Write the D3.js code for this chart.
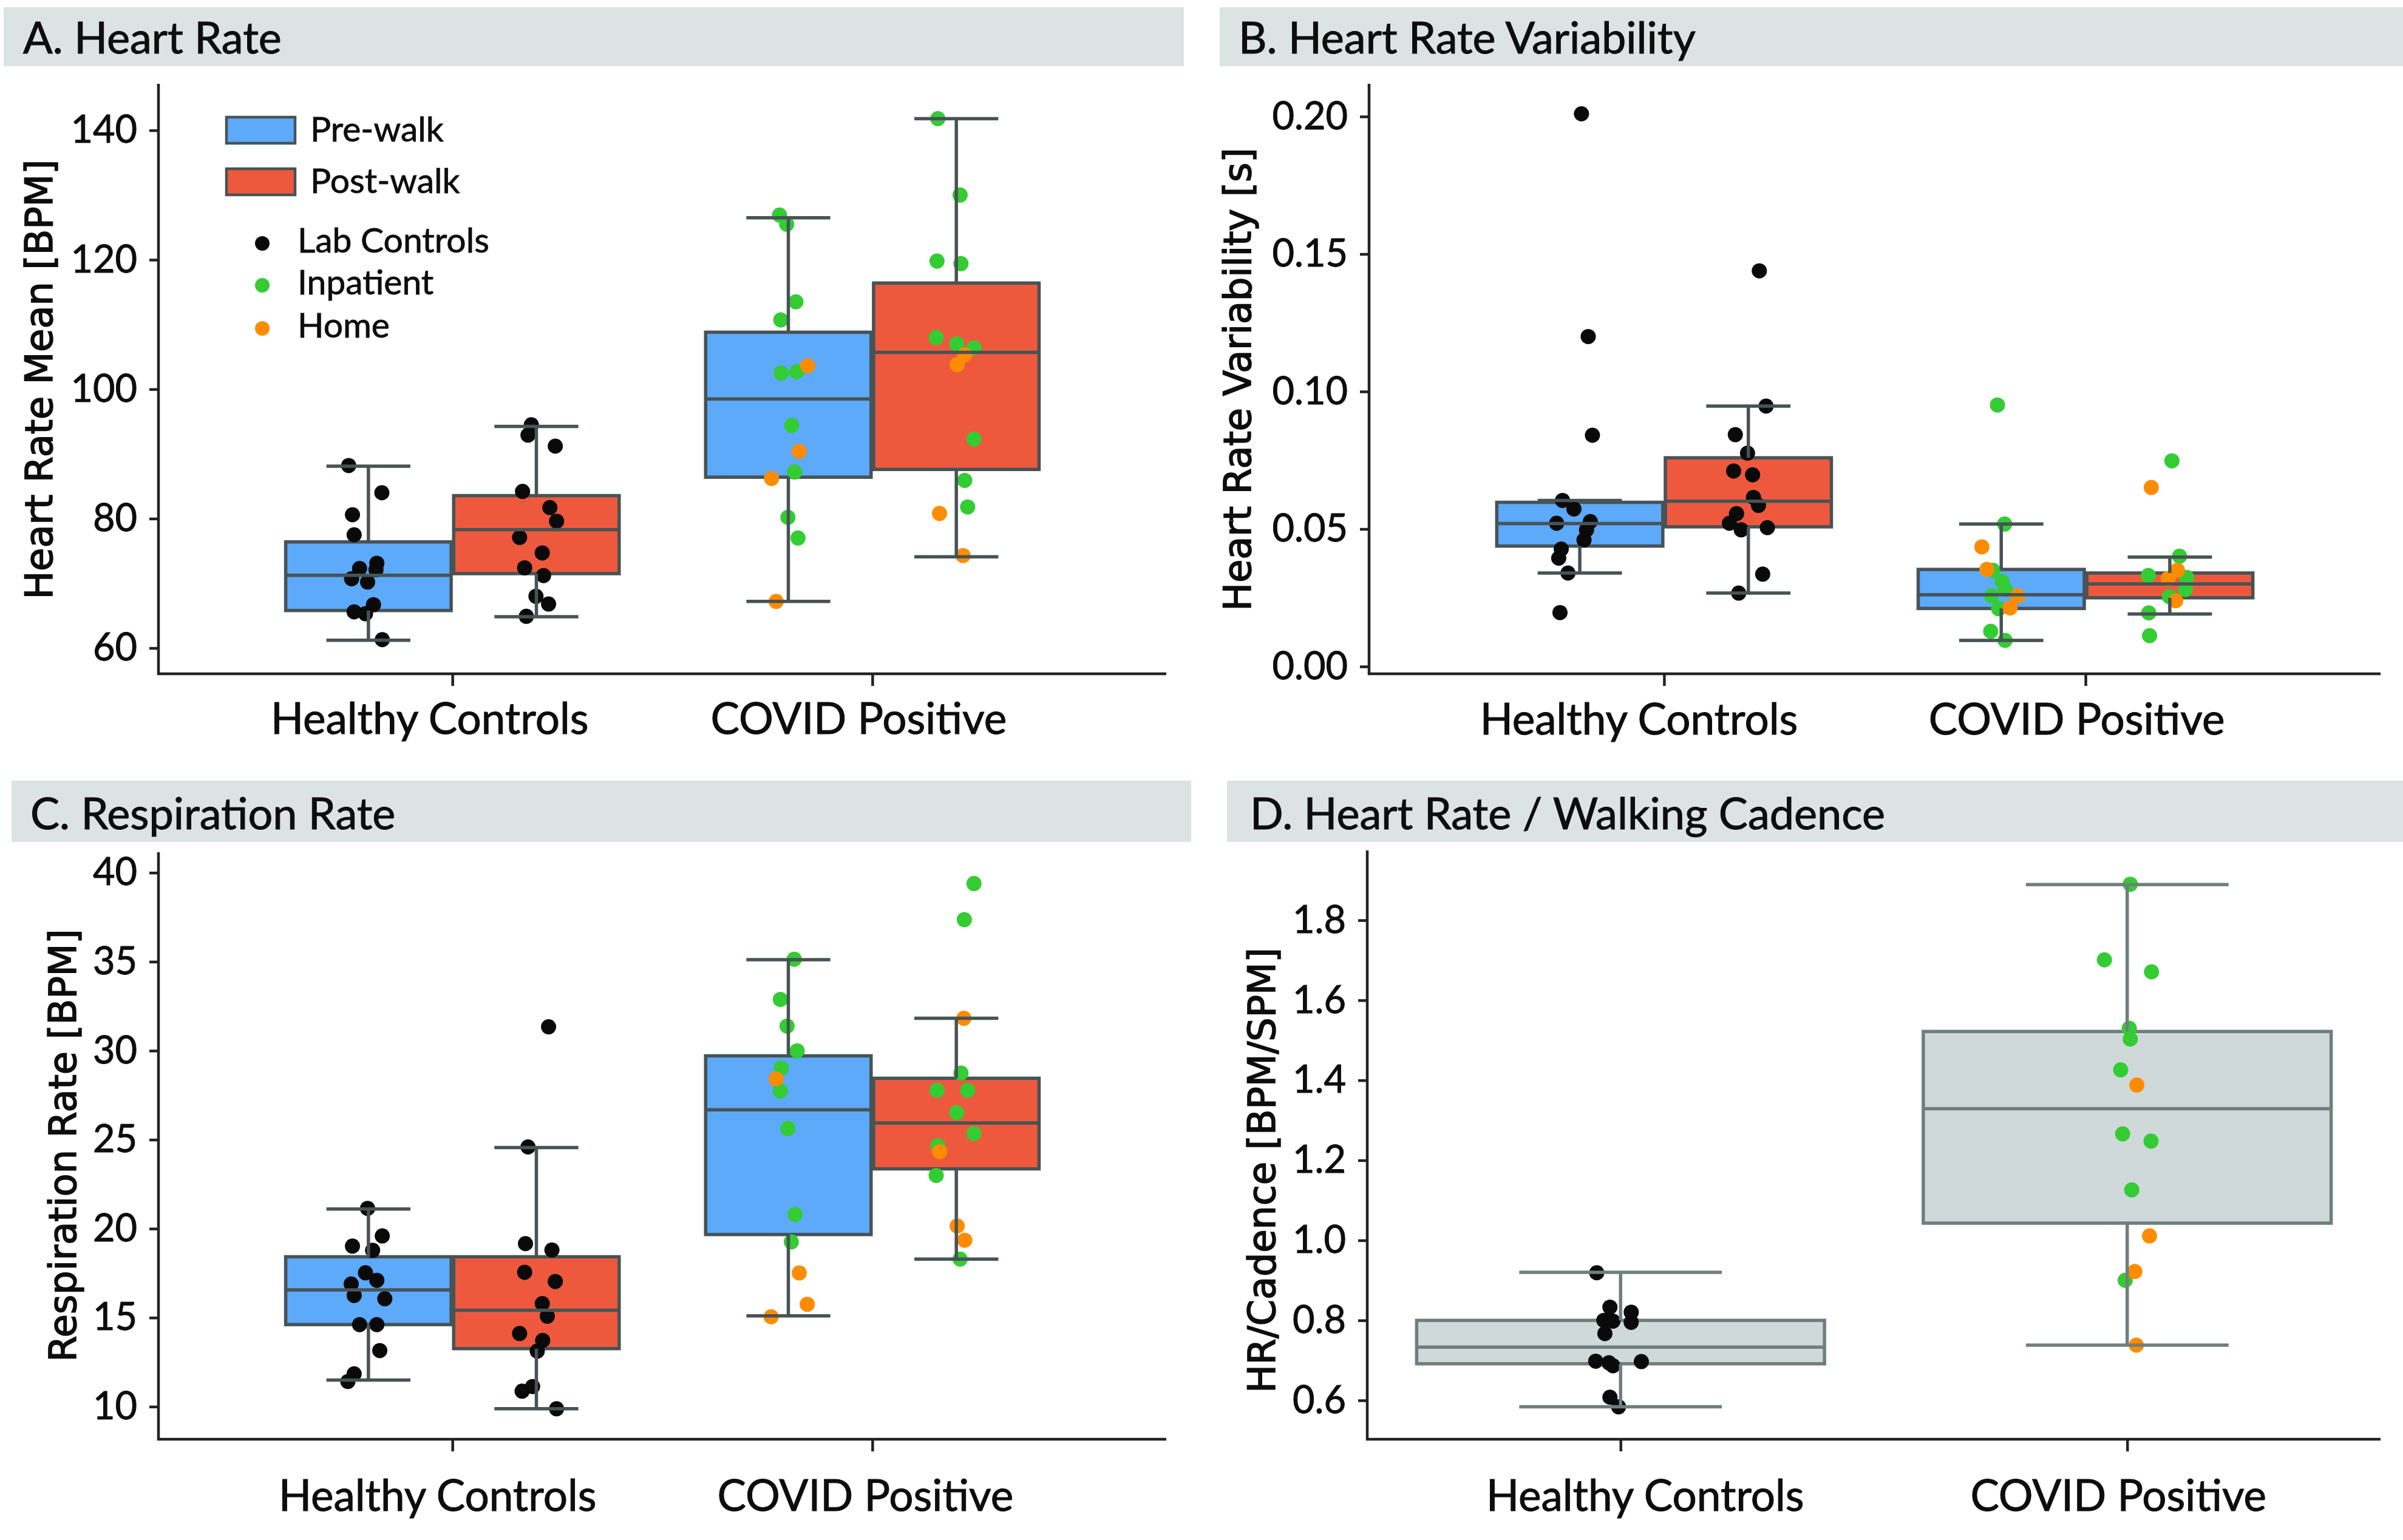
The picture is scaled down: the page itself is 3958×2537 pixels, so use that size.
<!DOCTYPE html>
<html><head><meta charset="utf-8">
<script src="https://cdn.jsdelivr.net/npm/d3@7"></script>
<style>body{margin:0;background:#fff;} svg{display:block;}</style>
</head><body>
<svg id="chart" width="3958" height="2537"></svg>
<script>
// ---------------- DATA ----------------
const categories = ["Healthy Controls", "COVID Positive"];
const phases = ["Pre-walk", "Post-walk"];
const cohorts = ["Lab Controls", "Inpatient", "Home"];

// Panel A: Heart Rate Mean [BPM]
const hrTicks = [60, 80, 100, 120, 140];
// box stats: [lowWhisker, q1, median, q3, highWhisker]
const hrBoxHcPre = [61.2, 65.8, 71.25, 76.4, 88.1];
const hrBoxHcPost = [64.85, 71.5, 78.3, 83.55, 94.25];
const hrBoxCovPre = [67.2, 86.4, 98.5, 108.8, 126.5];
const hrBoxCovPost = [74.1, 87.6, 105.7, 116.4, 141.8];
// points: [value, jitter]
const hrHcPre = [[88.2,-0.047],[84.0,0.032],[80.6,-0.038],[77.5,-0.034],[73.1,0.020],[72.3,-0.021],[72.1,0.018],[70.7,-0.040],[70.2,-0.002],[66.7,0.012],[65.6,-0.034],[65.3,-0.007],[61.3,0.033]];
const hrHcPost = [[94.5,-0.012],[92.9,-0.020],[91.2,0.045],[84.2,-0.033],[81.7,0.032],[79.6,0.048],[77.1,-0.040],[74.7,0.014],[72.4,-0.028],[71.2,0.017],[68.0,-0.001],[66.8,0.029],[64.9,-0.024]];
const hrCovPreInpatient = [[126.9,-0.021],[125.5,-0.004],[113.5,0.018],[110.7,-0.018],[102.5,-0.017],[102.7,0.020],[94.4,0.008],[87.2,0.015],[80.2,-0.001],[77.0,0.023]];
const hrCovPreHome = [[103.6,0.046],[90.4,0.026],[86.2,-0.040],[67.2,-0.029]];
const hrCovPostInpatient = [[141.8,-0.044],[130.0,0.009],[119.8,-0.046],[119.4,0.011],[108.0,-0.048],[107.0,0.001],[106.4,0.042],[92.3,0.042],[85.9,0.020],[81.8,0.027]];
const hrCovPostHome = [[105.3,0.020],[103.8,0.002],[80.8,-0.040],[74.3,0.016]];

// Panel B: Heart Rate Variability [s]
const hrvTicks = [0.00, 0.05, 0.10, 0.15, 0.20];
const hrvBoxHcPre = [0.0340, 0.0438, 0.0520, 0.0597, 0.0604];
const hrvBoxHcPost = [0.0267, 0.0508, 0.0601, 0.0759, 0.0947];
const hrvBoxCovPre = [0.0095, 0.0211, 0.0261, 0.0353, 0.0518];
const hrvBoxCovPost = [0.0191, 0.0250, 0.0300, 0.0340, 0.0398];
const hrvHcPre = [[0.201,0.004],[0.120,0.020],[0.0841,0.030],[0.0604,-0.041],[0.0573,-0.014],[0.0521,-0.055],[0.0527,0.025],[0.0497,0.016],[0.0460,0.010],[0.0427,-0.044],[0.0394,-0.050],[0.0340,-0.028],[0.0196,-0.047]];
const hrvHcPost = [[0.1439,0.026],[0.0947,0.042],[0.0843,-0.031],[0.0776,-0.002],[0.0711,-0.035],[0.0697,0.010],[0.0615,0.012],[0.0586,0.024],[0.0556,-0.028],[0.0521,-0.045],[0.0497,-0.017],[0.0505,0.045],[0.0336,0.034],[0.0267,-0.023]];
const hrvCovPreInpatient = [[0.0951,-0.009],[0.0518,0.008],[0.0350,-0.020],[0.0309,0.002],[0.0280,0.010],[0.0257,-0.023],[0.0210,-0.006],[0.0128,-0.025],[0.0095,0.009]];
const hrvCovPreHome = [[0.0435,-0.046],[0.0353,-0.034],[0.0257,0.039],[0.0213,0.021]];
const hrvCovPostInpatient = [[0.0748,0.005],[0.0401,0.023],[0.0331,-0.051],[0.0324,0.040],[0.0280,0.037],[0.0254,-0.001],[0.0195,-0.050],[0.0112,-0.048]];
const hrvCovPostHome = [[0.0651,-0.044],[0.0350,0.018],[0.0320,-0.004],[0.0239,0.014]];

// Panel C: Respiration Rate [BPM]
const rrTicks = [10, 15, 20, 25, 30, 35, 40];
const rrBoxHcPre = [11.49, 14.61, 16.56, 18.42, 21.1];
const rrBoxHcPost = [9.88, 13.26, 15.42, 18.42, 24.56];
const rrBoxCovPre = [15.1, 19.67, 26.68, 29.71, 35.11];
const rrBoxCovPost = [18.29, 23.36, 25.94, 28.45, 31.82];
const rrHcPre = [[21.14,-0.002],[19.59,0.033],[19.02,-0.038],[18.78,0.010],[17.52,-0.007],[17.10,0.020],[16.89,-0.041],[16.25,-0.034],[16.06,0.039],[14.61,-0.021],[14.61,0.020],[13.15,0.027],[11.84,-0.034],[11.41,-0.049]];
const rrHcPost = [[31.34,0.029],[24.59,-0.020],[19.16,-0.026],[18.80,0.037],[17.55,-0.028],[17.03,0.045],[15.79,0.014],[15.08,0.026],[14.11,-0.040],[13.72,0.015],[13.12,0.002],[10.87,-0.034],[11.13,-0.009],[9.88,0.048]];
const rrCovPreInpatient = [[35.14,0.014],[32.88,-0.019],[31.38,-0.003],[29.99,0.021],[29.02,-0.017],[27.74,-0.019],[25.63,-0.001],[20.80,0.016],[19.26,0.007]];
const rrCovPreHome = [[28.42,-0.029],[17.51,0.026],[15.75,0.045],[15.05,-0.041]];
const rrCovPostInpatient = [[39.39,0.042],[37.36,0.019],[28.74,0.011],[27.77,-0.046],[27.77,0.027],[26.52,0.001],[25.34,0.042],[24.66,-0.044],[22.99,-0.048],[18.29,0.009]];
const rrCovPostHome = [[31.82,0.018],[24.33,-0.040],[20.15,0.002],[19.35,0.020]];

// Panel D: HR/Cadence [BPM/SPM]
const cadTicks = [0.6, 0.8, 1.0, 1.2, 1.4, 1.6, 1.8];
const cadBoxHc = [0.584, 0.6915, 0.733, 0.800, 0.920];
const cadBoxCov = [0.738, 1.043, 1.329, 1.522, 1.889];
const cadHc = [[0.919,-0.047],[0.833,-0.021],[0.8205,0.021],[0.800,-0.033],[0.798,-0.015],[0.795,0.021],[0.767,-0.031],[0.698,-0.049],[0.694,-0.023],[0.6865,-0.015],[0.697,0.041],[0.608,-0.021],[0.584,-0.004]];
const cadCovInpatient = [[1.890,0.006],[1.701,-0.045],[1.671,0.048],[1.530,0.004],[1.503,0.006],[1.426,-0.013],[1.266,-0.009],[1.248,0.047],[1.126,0.009],[0.900,-0.004]];
const cadCovHome = [[1.388,0.019],[1.011,0.044],[0.922,0.015],[0.738,0.018]];

// ---------------- STYLE ----------------
const C = {pre:'#5da9fa', post:'#ee593e', edge:'#475355', lab:'#0a0a0a', inpatient:'#33cc33', home:'#ff8c00',
  dFill:'#cfd9d9', dEdge:'#6f7e7e', bar:'#dce3e2', axis:'#222', text:'#0d0d0d'};
const FONT = "Lato, 'Open Sans', sans-serif";
const LABELFONT = "'DejaVu Sans', sans-serif";
const R = 12.5;
const LW = 5.5;

const svg = d3.select('#chart');
svg.append('rect').attr('width',3958).attr('height',2537).attr('fill','#fff');

const dodge = 0.2, bwDodge = 0.394, capDodge = 0.2;

const panels = [
  {title:'A. Heart Rate', ylabel:'Heart Rate Mean [BPM]', bar:[6,12,1944,97], titleX:38, titleY:88,
   x0:261, x1:1921, yTop:138, yBot:1110, xDomain:[-0.7,1.7], yDomain:[60,140], yRange:[1067.6,214.7],
   ticks:hrTicks, fmt:d=>d3.format('d')(d), ylabelX:86, ylabelY:625, labelDx:[-38,-23], labelY:1209,
   edge:C.edge, groups:[
     {cat:0, off:-dodge, bw:bwDodge, cw:capDodge, fill:C.pre, box:hrBoxHcPre, sets:[[hrHcPre,C.lab]]},
     {cat:0, off:dodge, bw:bwDodge, cw:capDodge, fill:C.post, box:hrBoxHcPost, sets:[[hrHcPost,C.lab]]},
     {cat:1, off:-dodge, bw:bwDodge, cw:capDodge, fill:C.pre, box:hrBoxCovPre, sets:[[hrCovPreInpatient,C.inpatient],[hrCovPreHome,C.home]]},
     {cat:1, off:dodge, bw:bwDodge, cw:capDodge, fill:C.post, box:hrBoxCovPost, sets:[[hrCovPostInpatient,C.inpatient],[hrCovPostHome,C.home]]}
   ]},
  {title:'B. Heart Rate Variability', ylabel:'Heart Rate Variability [s]', bar:[2009,12,1949,97], titleX:2040, titleY:88,
   x0:2255, x1:3921, yTop:138, yBot:1110, xDomain:[-0.7,1.7], yDomain:[0,0.2], yRange:[1098,192],
   ticks:hrvTicks, fmt:d3.format('.2f'), ylabelX:2060, ylabelY:625, labelDx:[-42,-15], labelY:1210,
   edge:C.edge, groups:[
     {cat:0, off:-dodge, bw:bwDodge, cw:capDodge, fill:C.pre, box:hrvBoxHcPre, sets:[[hrvHcPre,C.lab]]},
     {cat:0, off:dodge, bw:bwDodge, cw:capDodge, fill:C.post, box:hrvBoxHcPost, sets:[[hrvHcPost,C.lab]]},
     {cat:1, off:-dodge, bw:bwDodge, cw:capDodge, fill:C.pre, box:hrvBoxCovPre, sets:[[hrvCovPreInpatient,C.inpatient],[hrvCovPreHome,C.home]]},
     {cat:1, off:dodge, bw:bwDodge, cw:capDodge, fill:C.post, box:hrvBoxCovPost, sets:[[hrvCovPostInpatient,C.inpatient],[hrvCovPostHome,C.home]]}
   ]},
  {title:'C. Respiration Rate', ylabel:'Respiration Rate [BPM]', bar:[19,1286,1943,101], titleX:50, titleY:1366,
   x0:261, x1:1921, yTop:1404, yBot:2371, xDomain:[-0.7,1.7], yDomain:[10,40], yRange:[2317.3,1437.7],
   ticks:rrTicks, fmt:d3.format('d'), ylabelX:125, ylabelY:1887, labelDx:[-25,-12], labelY:2489,
   edge:C.edge, groups:[
     {cat:0, off:-dodge, bw:bwDodge, cw:capDodge, fill:C.pre, box:rrBoxHcPre, sets:[[rrHcPre,C.lab]]},
     {cat:0, off:dodge, bw:bwDodge, cw:capDodge, fill:C.post, box:rrBoxHcPost, sets:[[rrHcPost,C.lab]]},
     {cat:1, off:-dodge, bw:bwDodge, cw:capDodge, fill:C.pre, box:rrBoxCovPre, sets:[[rrCovPreInpatient,C.inpatient],[rrCovPreHome,C.home]]},
     {cat:1, off:dodge, bw:bwDodge, cw:capDodge, fill:C.post, box:rrBoxCovPost, sets:[[rrCovPostInpatient,C.inpatient],[rrCovPostHome,C.home]]}
   ]},
  {title:'D. Heart Rate / Walking Cadence', ylabel:'HR/Cadence [BPM/SPM]', bar:[2021,1286,1937,101], titleX:2059, titleY:1366,
   x0:2252, x1:3921, yTop:1401, yBot:2371, xDomain:[-0.5,1.5], yDomain:[0.6,1.8], yRange:[2307,1516],
   ticks:cadTicks, fmt:d3.format('.1f'), ylabelX:2100, ylabelY:1928, labelDx:[40,-15], labelY:2489,
   edge:C.dEdge, groups:[
     {cat:0, off:0, bw:0.805, cw:0.4, fill:C.dFill, box:cadBoxHc, sets:[[cadHc,C.lab]]},
     {cat:1, off:0, bw:0.805, cw:0.4, fill:C.dFill, box:cadBoxCov, sets:[[cadCovInpatient,C.inpatient],[cadCovHome,C.home]]}
   ]}
];

function heavy(sel, w){ return sel.attr('stroke',C.text).attr('stroke-width',w).attr('paint-order','stroke'); }

function drawPanel(p){
  const g = svg.append('g');
  g.append('rect').attr('x',p.bar[0]).attr('y',p.bar[1]).attr('width',p.bar[2]).attr('height',p.bar[3]).attr('fill',C.bar);
  heavy(g.append('text').attr('x',p.titleX).attr('y',p.titleY).text(p.title)
    .attr('font-family',FONT).attr('font-size',72).attr('fill',C.text), 1);

  const x = d3.scaleLinear().domain(p.xDomain).range([p.x0,p.x1]);
  const y = d3.scaleLinear().domain(p.yDomain).range(p.yRange);

  // y axis
  const ya = g.append('g').attr('transform',`translate(${p.x0},0)`)
    .call(d3.axisLeft(y).tickValues(p.ticks).tickFormat(p.fmt).tickSize(15).tickPadding(20));
  ya.select('.domain').remove();
  ya.selectAll('.tick line').attr('stroke',C.axis).attr('stroke-width',4.5);
  heavy(ya.selectAll('.tick text').attr('font-family',FONT).attr('font-size',63).attr('fill',C.text), 1);

  // x axis
  const xa = g.append('g').attr('transform',`translate(0,${p.yBot})`)
    .call(d3.axisBottom(x).tickValues([0,1]).tickFormat(i=>categories[i]).tickSize(20));
  xa.select('.domain').remove();
  xa.selectAll('.tick line').attr('stroke',C.axis).attr('stroke-width',4.5);
  heavy(xa.selectAll('.tick text').attr('font-family',FONT).attr('font-size',71).attr('fill',C.text)
    .attr('dy',0).attr('y',p.labelY-p.yBot).attr('x',(d,i)=>p.labelDx[i]), 1);

  // spines
  g.append('line').attr('x1',p.x0).attr('x2',p.x0).attr('y1',p.yTop).attr('y2',p.yBot+2)
    .attr('stroke',C.axis).attr('stroke-width',4.5);
  g.append('line').attr('x1',p.x0-2).attr('x2',p.x1).attr('y1',p.yBot).attr('y2',p.yBot)
    .attr('stroke',C.axis).attr('stroke-width',4.5);

  // y label
  heavy(g.append('text').text(p.ylabel)
    .attr('transform',`translate(${p.ylabelX},${p.ylabelY}) rotate(-90)`)
    .attr('text-anchor','middle').attr('font-family',LABELFONT).attr('font-size',62).attr('fill',C.text), 1.6);

  // boxes
  const boxes = g.append('g');
  p.groups.forEach(gr=>{
    const c = gr.cat + gr.off, b = gr.box;
    boxes.append('rect')
      .attr('x',x(c-gr.bw/2)).attr('width',x(c+gr.bw/2)-x(c-gr.bw/2))
      .attr('y',y(b[3])).attr('height',y(b[1])-y(b[3]))
      .attr('fill',gr.fill).attr('stroke',p.edge).attr('stroke-width',LW);
  });
  // points
  const pts = g.append('g');
  p.groups.forEach(gr=>{
    const c = gr.cat + gr.off;
    gr.sets.forEach(([arr,col])=>{
      pts.selectAll(null).data(arr).enter().append('circle')
        .attr('cx',d=>x(c+d[1])).attr('cy',d=>y(d[0])).attr('r',R).attr('fill',col);
    });
  });
  // whiskers, caps, medians
  const lines = g.append('g').attr('stroke',p.edge).attr('stroke-width',LW);
  p.groups.forEach(gr=>{
    const c = gr.cat + gr.off, b = gr.box;
    lines.append('line').attr('x1',x(c)).attr('x2',x(c)).attr('y1',y(b[3])).attr('y2',y(b[4]));
    lines.append('line').attr('x1',x(c)).attr('x2',x(c)).attr('y1',y(b[1])).attr('y2',y(b[0]));
    [b[0],b[4]].forEach(v=>lines.append('line').attr('x1',x(c-gr.cw/2)).attr('x2',x(c+gr.cw/2)).attr('y1',y(v)).attr('y2',y(v)));
    lines.append('line').attr('x1',x(c-gr.bw/2)).attr('x2',x(c+gr.bw/2)).attr('y1',y(b[2])).attr('y2',y(b[2]));
  });
}
panels.forEach(drawPanel);

// legend (panel A)
const lg = svg.append('g');
const patchY = [193, 278];
[C.pre, C.post].forEach((col,i)=>{
  lg.append('rect').attr('x',373).attr('y',patchY[i]).attr('width',113).attr('height',43)
    .attr('fill',col).attr('stroke',C.edge).attr('stroke-width',4.5);
  heavy(lg.append('text').attr('x',511).attr('y',patchY[i]+40).text(phases[i])
    .attr('font-family',FONT).attr('font-size',57).attr('fill',C.text), 0.8);
});
const dotY = [401, 470, 541];
[C.lab, C.inpatient, C.home].forEach((col,i)=>{
  lg.append('circle').attr('cx',432).attr('cy',dotY[i]).attr('r',12).attr('fill',col);
  heavy(lg.append('text').attr('x',490).attr('y',dotY[i]+15).text(cohorts[i])
    .attr('font-family',FONT).attr('font-size',57).attr('fill',C.text), 0.8);
});
</script>
</body></html>
